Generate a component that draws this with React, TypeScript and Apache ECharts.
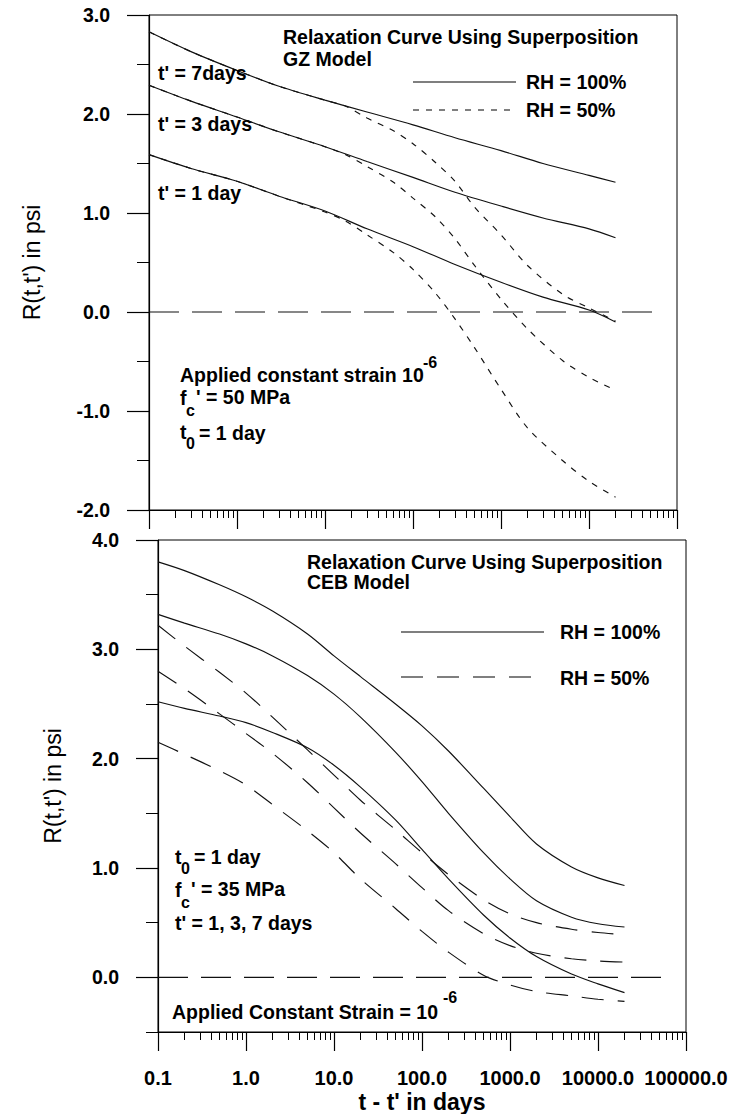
import React, { useEffect, useRef } from "react";
import * as echarts from "echarts";

const FONT = '"Liberation Sans", Arial, Helvetica, sans-serif';

// ---------- data (t - t' in days ; R(t,t') in psi) ----------
const xTickLabels = ["0.1", "1.0", "10.0", "100.0", "1000.0", "10000.0", "100000.0"];
const xMajor = [0.1, 1, 10, 100, 1000, 10000, 100000];
const xMinor = [
  0.2, 0.3, 0.4, 0.5, 0.6, 0.7, 0.8, 0.9,
  2, 3, 4, 5, 6, 7, 8, 9,
  20, 30, 40, 50, 60, 70, 80, 90,
  200, 300, 400, 500, 600, 700, 800, 900,
  2000, 3000, 4000, 5000, 6000, 7000, 8000, 9000,
  20000, 30000, 40000, 50000, 60000, 70000, 80000, 90000,
];
const botYMajor = [0, 1, 2, 3, 4];
const botYMinor = [-0.5, 0.5, 1.5, 2.5, 3.5];

// GZ model, RH = 100%
const gzT100 = [0.1, 0.3, 1, 3, 10, 30, 100, 300, 1000, 3000, 10000, 20000];
const gz100_7 = [2.83, 2.63, 2.44, 2.28, 2.14, 2.02, 1.89, 1.76, 1.63, 1.5, 1.38, 1.31];
const gz100_3 = [2.29, 2.13, 1.97, 1.82, 1.67, 1.52, 1.36, 1.21, 1.07, 0.95, 0.84, 0.75];
const gz100_1 = [1.59, 1.45, 1.32, 1.17, 1.02, 0.84, 0.66, 0.48, 0.3, 0.15, 0.02, -0.1];

// GZ model, RH = 50%
const gzT50 = [0.1, 0.3, 1, 3, 10, 17, 30, 60, 100, 180, 300, 500, 1000, 2000, 5000, 10000, 20000];
const gz50_7 = [2.83, 2.63, 2.44, 2.28, 2.14, 2.08, 1.96, 1.83, 1.7, 1.51, 1.32, 1.06, 0.78, 0.47, 0.18, 0.04, -0.09];
const gz50_3 = [2.29, 2.13, 1.97, 1.82, 1.67, 1.59, 1.47, 1.31, 1.15, 0.96, 0.74, 0.47, 0.13, -0.17, -0.49, -0.66, -0.79];
const gz50_1 = [1.59, 1.45, 1.32, 1.17, 1.01, 0.92, 0.78, 0.6, 0.43, 0.19, -0.07, -0.36, -0.78, -1.17, -1.5, -1.71, -1.87];

// CEB model
const cebT = [0.1, 0.2, 0.5, 1, 2, 5, 10, 20, 50, 100, 200, 500, 1000, 2000, 5000, 10000, 20000];
const ceb100_a = [3.8, 3.72, 3.59, 3.48, 3.35, 3.14, 2.94, 2.75, 2.5, 2.3, 2.07, 1.73, 1.47, 1.22, 1.01, 0.91, 0.84];
const ceb100_b = [3.32, 3.24, 3.14, 3.05, 2.94, 2.76, 2.59, 2.38, 2.06, 1.79, 1.5, 1.14, 0.9, 0.7, 0.55, 0.49, 0.46];
const ceb100_c = [2.52, 2.46, 2.39, 2.33, 2.24, 2.1, 1.94, 1.74, 1.44, 1.17, 0.9, 0.57, 0.36, 0.19, 0.03, -0.06, -0.14];
const ceb50_d = [3.22, 3.03, 2.79, 2.6, 2.38, 2.08, 1.85, 1.62, 1.35, 1.14, 0.94, 0.71, 0.58, 0.5, 0.44, 0.41, 0.39];
const ceb50_e = [2.8, 2.64, 2.41, 2.23, 2.05, 1.78, 1.55, 1.32, 1.04, 0.82, 0.61, 0.4, 0.29, 0.22, 0.17, 0.15, 0.14];
const ceb50_f = [2.15, 2.04, 1.89, 1.76, 1.58, 1.34, 1.14, 0.9, 0.63, 0.42, 0.23, 0.02, -0.07, -0.13, -0.17, -0.2, -0.22];

const zeroT = [0.1, 60000];
const zeroV = [0, 0];

const pairs = (xs: number[], ys: number[]) => xs.map((x, i) => [x, ys[i]]);

const BOLD = { fontFamily: FONT, fontWeight: "bold" as const, color: "#000" };

function lineSeries(name: string, xs: number[], ys: number[], grid: number, dash: any, smooth = true) {
  return {
    type: "line",
    name,
    xAxisIndex: grid === 0 ? 0 : 2,
    yAxisIndex: grid === 0 ? 0 : 1,
    data: pairs(xs, ys),
    showSymbol: false,
    smooth: smooth ? 0.3 : false,
    lineStyle: { color: "#111", width: 1.15, type: dash },
    z: 3,
  };
}

function txt(x: number, y: number, text: string, size = 19.5, weight = "bold") {
  return {
    type: "text",
    x,
    y,
    z: 10,
    style: {
      text,
      fill: "#000",
      fontSize: size,
      fontWeight: weight,
      fontFamily: FONT,
      align: "left",
      verticalAlign: "middle",
    },
  };
}

function seg(x1: number, y1: number, x2: number, y2: number, dash?: number[]) {
  return {
    type: "line",
    z: 10,
    shape: { x1, y1, x2, y2 },
    style: { stroke: "#000", lineWidth: 1.2, lineDash: dash },
  };
}

function xAxisPair(grid: number, labels: boolean) {
  const base = {
    type: "log",
    logBase: 10,
    gridIndex: grid,
    min: 0.1,
    max: 100000,
    position: "bottom",
    offset: 0,
    splitLine: { show: false },
    minorSplitLine: { show: false },
    axisLine: { show: true, onZero: false, lineStyle: { color: "#000", width: 1 } },
  };
  return [
    {
      ...base,
      axisTick: { show: true, inside: false, length: 19, customValues: xMajor, lineStyle: { color: "#000", width: 1.2 } },
      axisLabel: labels
        ? {
            show: true,
            customValues: xMajor,
            margin: 36,
            fontSize: 20,
            ...BOLD,
            formatter: (v: number) => xTickLabels[Math.round(Math.log10(v)) + 1] ?? "",
          }
        : { show: false },
      name: labels ? "t - t' in days" : "",
      nameLocation: "middle",
      nameGap: 58,
      nameTextStyle: { fontSize: 23, ...BOLD },
    },
    {
      ...base,
      axisTick: { show: true, inside: false, length: 8, customValues: xMinor, lineStyle: { color: "#000", width: 1 } },
      axisLabel: { show: false },
    },
  ];
}

export default function App() {
  const ref = useRef<HTMLDivElement>(null);

  useEffect(() => {
    if (!ref.current) return;
    const chart = echarts.init(ref.current, undefined, { renderer: "svg" });

    const yName = "R(t,t') in psi";

    const option: any = {
      animation: false,
      backgroundColor: "#fff",
      grid: [
        { left: 149, top: 15, width: 528, height: 495, show: true, borderColor: "#000", borderWidth: 1, backgroundColor: "transparent" },
        { left: 158, top: 540, width: 528, height: 495, show: true, borderColor: "#000", borderWidth: 1, backgroundColor: "transparent" },
      ],
      xAxis: [...xAxisPair(0, false), ...xAxisPair(1, true)],
      yAxis: [
        {
          type: "value",
          gridIndex: 0,
          min: -2,
          max: 3,
          interval: 1,
          position: "left",
          axisLine: { show: true, onZero: false, lineStyle: { color: "#000", width: 1.2 } },
          axisTick: { show: true, length: 22, lineStyle: { color: "#000", width: 1.2 } },
          minorTick: { show: true, splitNumber: 2, length: 12, lineStyle: { color: "#000", width: 1 } },
          splitLine: { show: false },
          axisLabel: { margin: 39, fontSize: 19.5, ...BOLD, formatter: (v: number) => v.toFixed(1) },
          name: yName,
          nameLocation: "middle",
          nameGap: 106,
          nameRotate: 90,
          nameTextStyle: { fontSize: 23, fontFamily: FONT, color: "#000" },
        },
        {
          type: "value",
          gridIndex: 1,
          min: -0.5,
          max: 4,
          position: "left",
          offset: 0,
          axisLine: { show: true, onZero: false, lineStyle: { color: "#000", width: 1.2 } },
          axisTick: { show: true, length: 22, customValues: botYMajor, lineStyle: { color: "#000", width: 1.2 } },
          splitLine: { show: false },
          axisLabel: { margin: 39, fontSize: 19.5, customValues: botYMajor, ...BOLD, formatter: (v: number) => v.toFixed(1) },
          name: yName,
          nameLocation: "middle",
          nameGap: 94,
          nameRotate: 90,
          nameTextStyle: { fontSize: 23, fontFamily: FONT, color: "#000" },
        },
        {
          type: "value",
          gridIndex: 1,
          min: -0.5,
          max: 4,
          position: "left",
          offset: 0,
          axisLine: { show: false },
          axisTick: { show: true, length: 12, customValues: botYMinor, lineStyle: { color: "#000", width: 1 } },
          splitLine: { show: false },
          axisLabel: { show: false },
        },
      ],
      series: [
        lineSeries("zero GZ", zeroT, zeroV, 0, [30, 13], false),
        lineSeries("RH = 100% t'=7", gzT100, gz100_7, 0, "solid"),
        lineSeries("RH = 100% t'=3", gzT100, gz100_3, 0, "solid"),
        lineSeries("RH = 100% t'=1", gzT100, gz100_1, 0, "solid"),
        lineSeries("RH = 50% t'=7", gzT50, gz50_7, 0, [6, 7]),
        lineSeries("RH = 50% t'=3", gzT50, gz50_3, 0, [6, 7]),
        lineSeries("RH = 50% t'=1", gzT50, gz50_1, 0, [6, 7]),
        lineSeries("zero CEB", zeroT, zeroV, 1, [30, 13], false),
        lineSeries("CEB RH = 100% a", cebT, ceb100_a, 1, "solid"),
        lineSeries("CEB RH = 100% b", cebT, ceb100_b, 1, "solid"),
        lineSeries("CEB RH = 100% c", cebT, ceb100_c, 1, "solid"),
        lineSeries("CEB RH = 50% d", cebT, ceb50_d, 1, [22, 14]),
        lineSeries("CEB RH = 50% e", cebT, ceb50_e, 1, [22, 14]),
        lineSeries("CEB RH = 50% f", cebT, ceb50_f, 1, [22, 14]),
      ],
      graphic: [
        // ---- top panel annotations ----
        txt(283, 37, "Relaxation Curve Using Superposition"),
        txt(283, 59, "GZ Model"),
        seg(413, 82, 516, 82),
        txt(526, 82, "RH = 100%"),
        seg(413, 110, 512, 110, [6, 7]),
        txt(526, 110, "RH = 50%"),
        txt(158, 73, "t' = 7days"),
        txt(158, 124, "t' = 3 days"),
        txt(158, 193, "t' = 1 day"),
        txt(180, 375, "Applied constant strain 10"),
        txt(423, 362, "-6", 16),
        txt(180, 398, "f"),
        txt(186, 410, "c", 16),
        txt(196, 397, "' = 50 MPa"),
        txt(180, 432, "t"),
        txt(186, 443, "0", 16),
        txt(199, 433, "= 1 day"),
        // ---- bottom panel annotations ----
        txt(307, 562, "Relaxation Curve Using Superposition"),
        txt(307, 582, "CEB Model"),
        seg(401, 632, 544, 632),
        txt(560, 632, "RH = 100%"),
        seg(401, 677, 544, 677, [22, 14]),
        txt(560, 678, "RH = 50%"),
        txt(175, 857, "t"),
        txt(181, 868, "0", 16),
        txt(194, 857, "= 1 day"),
        txt(175, 890, "f"),
        txt(181, 902, "c", 16),
        txt(191, 889, "' = 35 MPa"),
        txt(175, 923, "t' = 1, 3, 7 days"),
        txt(172, 1012, "Applied Constant Strain = 10"),
        txt(443, 997, "-6", 16),
      ],
    };

    chart.setOption(option);
    return () => chart.dispose();
  }, []);

  return (
    <div
      ref={ref}
      style={{ position: "absolute", left: 0, top: 0, width: 742, height: 1114, background: "#fff" }}
    />
  );
}
